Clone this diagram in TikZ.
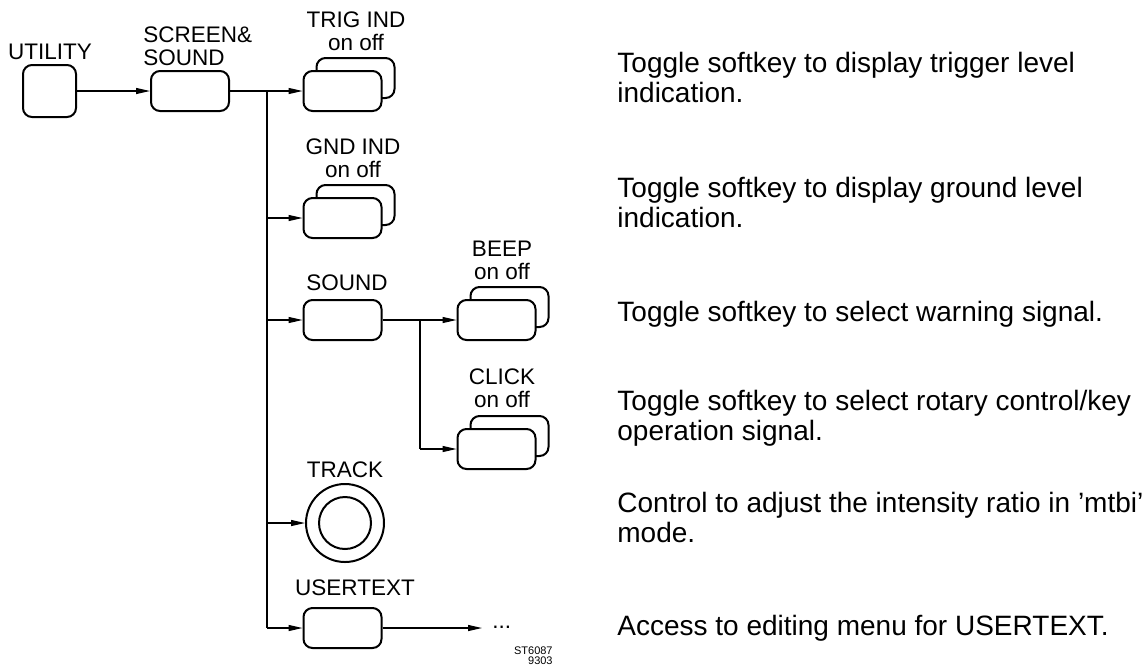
\documentclass[tikz,border=0pt]{standalone}
\usepackage{fontspec}
\setmainfont{Liberation Sans}
\usetikzlibrary{arrows.meta}
\begin{document}
\begin{tikzpicture}[x=0.5pt,y=-0.5pt,
  keybox/.style={draw, line width=1pt, rounded corners=4.5pt, minimum width=39pt, minimum height=20pt, inner sep=0pt, fill=white},
  lbl/.style={font=\fontsize{11.25}{11.5}\selectfont, align=center, inner sep=0pt},
  desc/.style={font=\fontsize{14}{15}\selectfont, anchor=base west, inner sep=0pt},
  tiny/.style={font=\fontsize{5.5}{6}\selectfont, anchor=base east, inner sep=0pt},
  wire/.style={line width=0.6pt},
  conn/.style={wire, -{Triangle[length=7pt,width=3pt]}}]
\useasboundingbox (0,0) rectangle (1144,665);

% keys
\node[keybox, minimum width=26.5pt, minimum height=26pt] (util) at (49.5,91) {};
\node[keybox] (scr) at (190,91) {};
\node[keybox] (trigb) at (355.5,78) {};
\node[keybox] (trig) at (342.5,91) {};
\node[keybox] (gndb) at (355.5,205) {};
\node[keybox] (gnd) at (342.5,218) {};
\node[keybox] (sound) at (342.5,320) {};
\node[keybox] (beepb) at (509.5,307) {};
\node[keybox] (beep) at (496.5,320) {};
\node[keybox] (clickb) at (509.5,436) {};
\node[keybox] (click) at (496.5,449) {};
\node[draw, circle, line width=1pt, minimum size=39pt, inner sep=0pt] (track) at (345,523) {};
\draw[line width=1pt] (track.center) circle[radius=13pt];
\node[keybox] (user) at (342.5,628) {};

% labels
\node[lbl] (utill) at (50,52) {UTILITY};
\node[lbl, align=left, anchor=west] (scrl) at (143,46.5) {SCREEN\&\\SOUND};
\node[lbl] (trigl) at (356,31.5) {TRIG IND\\on off};
\node[lbl] (gndl) at (353,158) {GND IND\\on off};
\node[lbl] (soundl) at (347,283) {SOUND};
\node[lbl] (beepl) at (502,260.5) {BEEP\\on off};
\node[lbl] (clickl) at (502,388) {CLICK\\on off};
\node[lbl] (trackl) at (345,470) {TRACK};
\node[lbl] (userl) at (355,588) {USERTEXT};
\node[lbl, anchor=base west, inner xsep=5pt] (dots) at (482,628) {...};
\node[tiny] (code1) at (553,654) {ST6087};
\node[tiny] (code2) at (553,664) {9303};

% connectors
\coordinate (br1) at (267,91);
\coordinate (br1e) at (267,628);
\coordinate (br2) at (420,320);
\draw[conn] (util.east) -- (scr.west);
\draw[wire] (scr.east) -- (br1) -- (br1e);
\draw[conn] (br1) -- (trig.west);
\draw[conn] (br1 |- gnd) -- (gnd.west);
\draw[conn] (br1 |- sound) -- (sound.west);
\draw[conn] (br1 |- track) -- (track.west);
\draw[conn] (br1e) -- (user.west);
\draw[wire] (sound.east) -- (br2) -- (br2 |- click);
\draw[conn] (br2) -- (beep.west);
\draw[conn] (br2 |- click) -- (click.west);
\draw[conn] (user.east) -- (user -| dots.west);

% descriptions
\node[desc] (d1a) at (617,72) {Toggle softkey to display trigger level};
\node[desc] (d1b) at (617,102) {indication.};
\node[desc] (d2a) at (617,197) {Toggle softkey to display ground level};
\node[desc] (d2b) at (617,227) {indication.};
\node[desc] (d3a) at (617,321) {Toggle softkey to select warning signal.};
\node[desc] (d4a) at (617,410) {Toggle softkey to select rotary control/key};
\node[desc] (d4b) at (617,440) {operation signal.};
\node[desc] (d5a) at (617,512) {Control to adjust the intensity ratio in 'mtbi'};
\node[desc] (d5b) at (617,542) {mode.};
\node[desc] (d6a) at (617,635) {Access to editing menu for USERTEXT.};
\end{tikzpicture}
\end{document}
